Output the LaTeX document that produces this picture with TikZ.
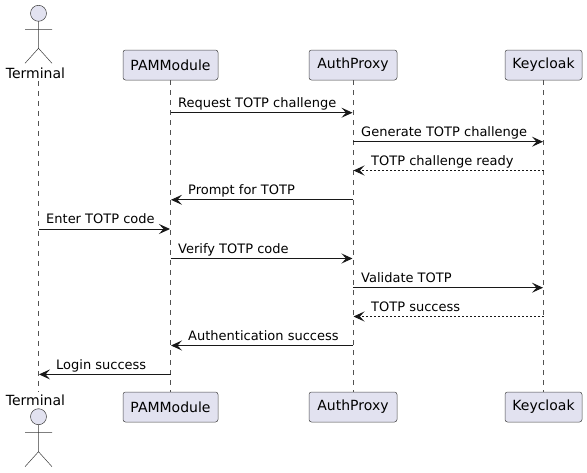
\documentclass[tikz,border=0pt]{standalone}
\usepackage{fontspec}
\setmainfont{DejaVu Sans}
\usetikzlibrary{arrows.meta}
\definecolor{pfill}{HTML}{E2E2F0}
\definecolor{pline}{HTML}{181818}
\tikzset{
  participant/.style={draw=pline!80,fill=pfill,rounded corners=2.5pt,line width=0.5pt,minimum height=30pt,inner sep=0pt,font=\fontsize{14}{16}\selectfont,text=black},
  lifeline/.style={draw=pline!75,line width=0.5pt,dash pattern=on 5pt off 5pt},
  actorline/.style={draw=pline!85,line width=0.5pt},
  actorhead/.style={draw=pline!85,fill=pfill,line width=0.5pt},
  actorname/.style={inner sep=0pt,font=\fontsize{14}{16}\selectfont,text=black},
  msg/.style={draw=pline,line width=1pt,-{Stealth[length=11pt,width=10pt,inset=4.5pt]},shorten >=0.5pt},
  reply/.style={msg,dash pattern=on 2pt off 2pt},
  msglabel/.style={inner sep=0pt,anchor=base west,font=\fontsize{13}{15}\selectfont,text=black}
}
\begin{document}
\begin{tikzpicture}[x=1pt,y=-1pt]
\useasboundingbox (0,0) rectangle (587,472);
% top and bottom participants
\node[participant,minimum width=95pt] (pamT) at (170.5,65) {PAMModule};
\node[participant,minimum width=88pt] (authT) at (353,65) {AuthProxy};
\node[participant,minimum width=77pt] (keyT) at (543.5,65) {Keycloak};
\node[participant,minimum width=95pt] (pamB) at (170.5,407) {PAMModule};
\node[participant,minimum width=88pt] (authB) at (353,407) {AuthProxy};
\node[participant,minimum width=77pt] (keyB) at (543.5,407) {Keycloak};
\node[actorname] (termT) at (35.5,73) {Terminal};
\node[actorname] (termB) at (35.5,400) {Terminal};
\coordinate (lineT) at (38.5,81);
\coordinate (lineB) at (38.5,392);
% lifelines
\draw[lifeline] (lineT) -- (lineB);
\draw[lifeline] (pamT.south) -- (pamB.north);
\draw[lifeline] (authT.south) -- (authB.north);
\draw[lifeline] (keyT.south) -- (keyB.north);
% actors
\foreach \hy in {13.3,416.7}{
  \begin{scope}[yshift=-\hy pt]
  \draw[actorhead] (38.5,0) circle (8);
  \draw[actorline] (38.5,8) -- (38.5,35) (25,16) -- (52,16) (25,50) -- (38.5,35) -- (52,50);
  \end{scope}
}
% message rows
\coordinate (m1) at (0,112.7);
\coordinate (m2) at (0,141.7);
\coordinate (m3) at (0,170.5);
\coordinate (m4) at (0,199.8);
\coordinate (m5) at (0,229);
\coordinate (m6) at (0,258.5);
\coordinate (m7) at (0,287.7);
\coordinate (m8) at (0,316.5);
\coordinate (m9) at (0,345.5);
\coordinate (m10) at (0,374.4);
\draw[msg] (pamT |- m1) -- (authT |- m1);
\draw[msg] (authT |- m2) -- (keyT |- m2);
\draw[reply] (keyT |- m3) -- (authT |- m3);
\draw[msg] (authT |- m4) -- (pamT |- m4);
\draw[msg] (lineT |- m5) -- (pamT |- m5);
\draw[msg] (pamT |- m6) -- (authT |- m6);
\draw[msg] (authT |- m7) -- (keyT |- m7);
\draw[reply] (keyT |- m8) -- (authT |- m8);
\draw[msg] (authT |- m9) -- (pamT |- m9);
\draw[msg] (pamT |- m10) -- (lineT |- m10);
% labels
\node[msglabel] (l1) at (178,107.5) {Request TOTP challenge};
\node[msglabel] (l2) at (361,136.5) {Generate TOTP challenge};
\node[msglabel] (l3) at (371,165.5) {TOTP challenge ready};
\node[msglabel] (l4) at (188,194.5) {Prompt for TOTP};
\node[msglabel] (l5) at (46,223.5) {Enter TOTP code};
\node[msglabel] (l6) at (178,253) {Verify TOTP code};
\node[msglabel] (l7) at (361,282) {Validate TOTP};
\node[msglabel] (l8) at (371,311) {TOTP success};
\node[msglabel] (l9) at (188,340) {Authentication success};
\node[msglabel] (l10) at (56,369.5) {Login success};
\end{tikzpicture}
\end{document}
